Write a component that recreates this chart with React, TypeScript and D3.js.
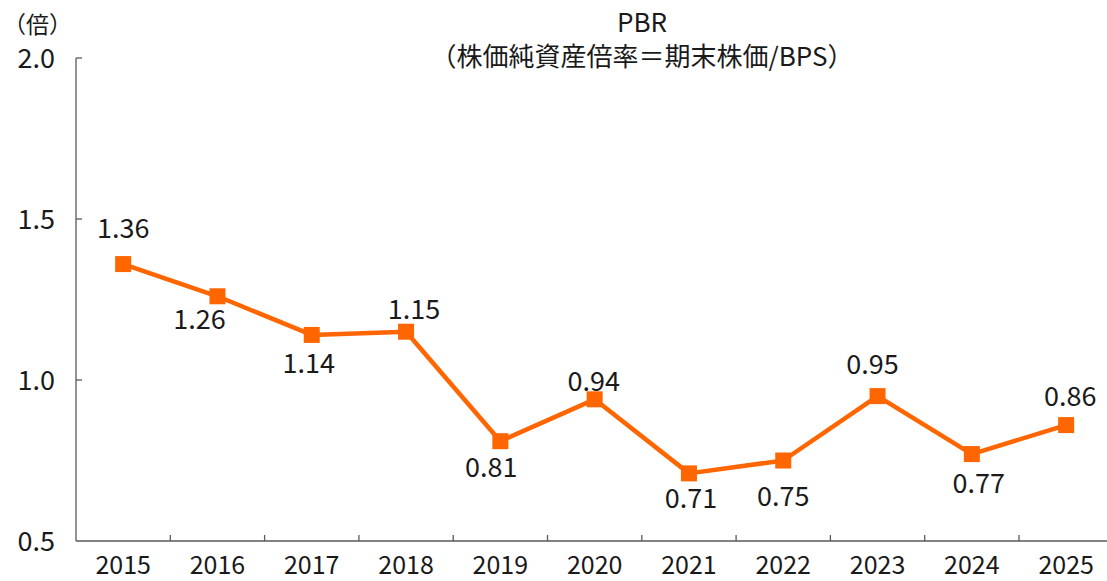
import React, { useRef, useEffect } from "react";
import * as d3 from "d3";

const years = ["2015", "2016", "2017", "2018", "2019", "2020", "2021", "2022", "2023", "2024", "2025"];
const pbr = [1.36, 1.26, 1.14, 1.15, 0.81, 0.94, 0.71, 0.75, 0.95, 0.77, 0.86];
const yTicks = [0.5, 1.0, 1.5, 2.0];
const titleLines = ["PBR", "（株価純資産倍率＝期末株価/BPS）"];
const unitLabel = "（倍）";

// label nudges (dx, dy from marker centre), as placed in the original
const labelNudge: [number, number][] = [
  [0, -26], [-18, 33], [-3, 38], [8, -13], [-9, 36], [-1, -8],
  [2, 35], [0, 45], [-5, -22], [7, 39], [4, -19],
];

const App = () => {
  const svgRef = useRef<SVGSVGElement>(null);

  useEffect(() => {
    document.body.style.margin = "0";
    const width = 1107;
    const height = 581;
    const marginLeft = 76;
    const marginTop = 58;
    const marginBottom = 40;
    const step = 94.3;
    const font = "'Noto Sans CJK JP', 'Noto Sans', sans-serif";
    const orange = "#ff6600";
    const textColor = "#1a1a1a";

    const svg = d3.select(svgRef.current);
    svg.selectAll("*").remove();
    svg.attr("width", width).attr("height", height).style("display", "block");

    const x = d3.scaleBand<string>()
      .domain(years)
      .range([marginLeft, marginLeft + step * years.length]);

    const y = d3.scaleLinear()
      .domain([0.5, 2.0])
      .range([height - marginBottom, marginTop]);

    const axisColor = "#595959";

    // x axis
    const xAxis = svg.append("g")
      .attr("transform", `translate(0,${y(0.5)})`);
    xAxis.append("line")
      .attr("x1", marginLeft).attr("x2", width)
      .attr("stroke", axisColor).attr("stroke-width", 1.3);
    xAxis.selectAll("line.tick")
      .data(years.slice(1))
      .join("line")
      .attr("class", "tick")
      .attr("x1", d => x(d)!).attr("x2", d => x(d)!)
      .attr("y1", 0).attr("y2", -6)
      .attr("stroke", axisColor).attr("stroke-width", 1.3);
    xAxis.selectAll("text")
      .data(years)
      .join("text")
      .attr("x", d => x(d)! + x.bandwidth() / 2)
      .attr("y", 33)
      .attr("text-anchor", "middle")
      .attr("font-family", font)
      .attr("font-size", 25)
      .attr("fill", textColor)
      .text(d => d);

    // y axis
    const yAxis = svg.append("g");
    yAxis.append("line")
      .attr("x1", marginLeft).attr("x2", marginLeft)
      .attr("y1", y(2.0)).attr("y2", y(0.5))
      .attr("stroke", axisColor).attr("stroke-width", 1.3);
    yAxis.selectAll("line.tick")
      .data(yTicks.slice(1))
      .join("line")
      .attr("class", "tick")
      .attr("x1", marginLeft).attr("x2", marginLeft + 6)
      .attr("y1", d => y(d)).attr("y2", d => y(d))
      .attr("stroke", axisColor).attr("stroke-width", 1.3);
    yAxis.selectAll("text")
      .data(yTicks)
      .join("text")
      .attr("x", 55)
      .attr("y", d => y(d) + 10)
      .attr("text-anchor", "end")
      .attr("font-family", font)
      .attr("font-size", 27)
      .attr("fill", textColor)
      .text(d => d.toFixed(1));

    svg.append("text")
      .attr("x", 3).attr("y", 33)
      .attr("font-family", font)
      .attr("font-size", 23)
      .attr("fill", textColor)
      .text(unitLabel);

    // title
    svg.append("g").selectAll("text")
      .data(titleLines)
      .join("text")
      .attr("x", 642)
      .attr("y", (d, i) => 32 + i * 34)
      .attr("text-anchor", "middle")
      .attr("font-family", font)
      .attr("font-size", 26)
      .attr("fill", textColor)
      .text(d => d);

    const cx = (d: string) => x(d)! + x.bandwidth() / 2;

    const line = d3.line<number>()
      .x((d, i) => cx(years[i]))
      .y(d => y(d));

    svg.append("path")
      .datum(pbr)
      .attr("d", line)
      .attr("fill", "none")
      .attr("stroke", orange)
      .attr("stroke-width", 4.5)
      .attr("stroke-linejoin", "round");

    svg.append("g").selectAll("rect")
      .data(pbr)
      .join("rect")
      .attr("x", (d, i) => cx(years[i]) - 8)
      .attr("y", d => y(d) - 8)
      .attr("width", 16)
      .attr("height", 16)
      .attr("fill", orange);

    svg.append("g").selectAll("text")
      .data(pbr)
      .join("text")
      .attr("x", (d, i) => cx(years[i]) + labelNudge[i][0])
      .attr("y", (d, i) => y(d) + labelNudge[i][1])
      .attr("text-anchor", "middle")
      .attr("font-family", font)
      .attr("font-size", 27)
      .attr("fill", textColor)
      .text(d => d.toFixed(2));
  }, []);

  return <svg ref={svgRef} />;
};

export default App;
